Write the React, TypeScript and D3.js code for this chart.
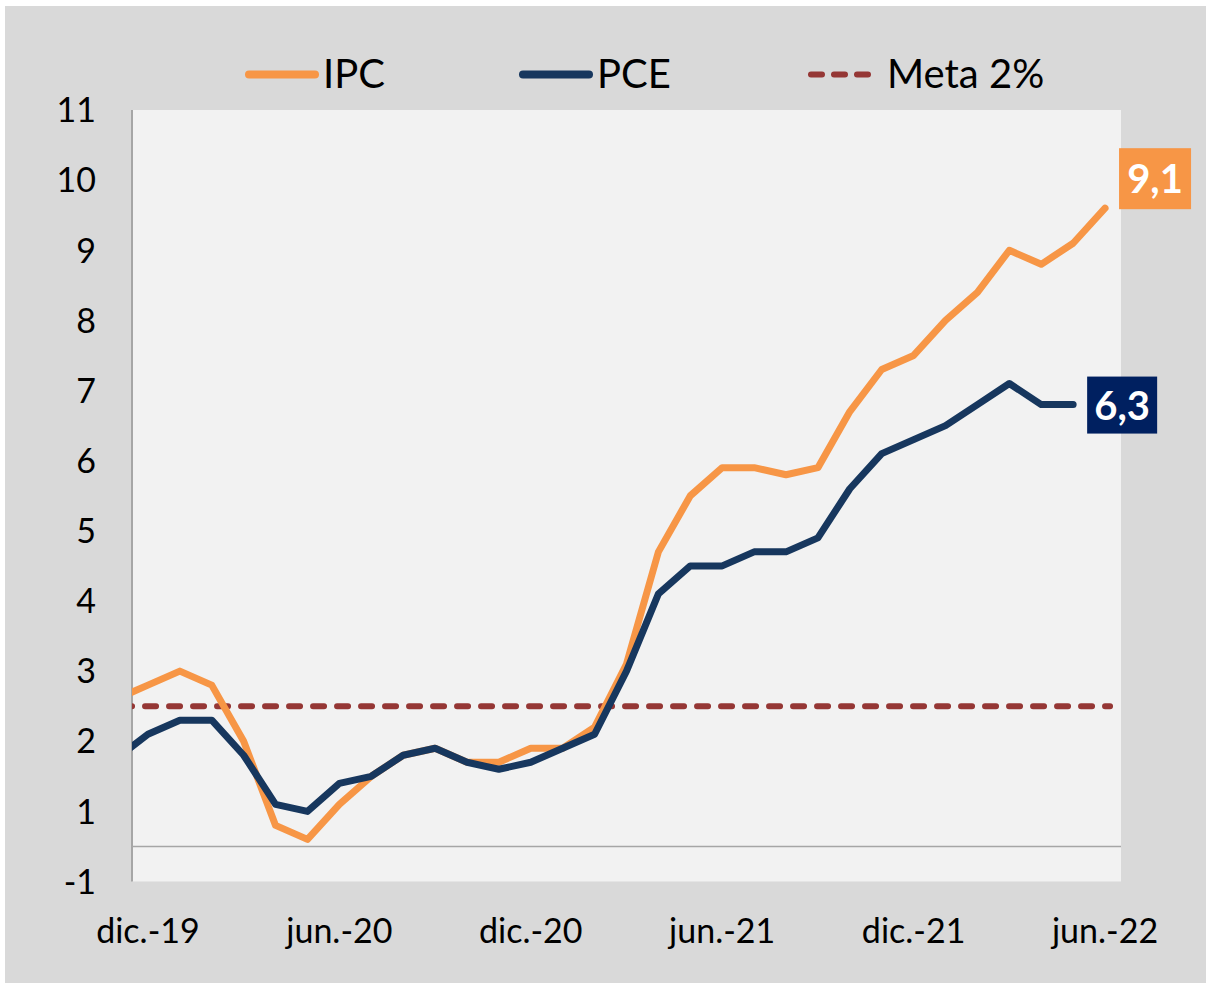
import React from "react";
import * as d3 from "d3";

const months = [
  "nov.-19", "dic.-19", "ene.-20", "feb.-20", "mar.-20", "abr.-20", "may.-20", "jun.-20",
  "jul.-20", "ago.-20", "sep.-20", "oct.-20", "nov.-20", "dic.-20", "ene.-21", "feb.-21",
  "mar.-21", "abr.-21", "may.-21", "jun.-21", "jul.-21", "ago.-21", "sep.-21", "oct.-21",
  "nov.-21", "dic.-21", "ene.-22", "feb.-22", "mar.-22", "abr.-22", "may.-22", "jun.-22",
];

const ipc = [
  2.1, 2.3, 2.5, 2.3, 1.5, 0.3, 0.1, 0.6, 1.0, 1.3, 1.4, 1.2, 1.2, 1.4, 1.4, 1.7,
  2.6, 4.2, 5.0, 5.4, 5.4, 5.3, 5.4, 6.2, 6.8, 7.0, 7.5, 7.9, 8.5, 8.3, 8.6, 9.1,
];

const pce = [
  1.25, 1.6, 1.8, 1.8, 1.3, 0.6, 0.5, 0.9, 1.0, 1.3, 1.4, 1.2, 1.1, 1.2, 1.4, 1.6,
  2.5, 3.6, 4.0, 4.0, 4.2, 4.2, 4.4, 5.1, 5.6, 5.8, 6.0, 6.3, 6.6, 6.3, 6.3, null,
];

const meta = months.map(() => 2);

const xTickLabels = ["dic.-19", "jun.-20", "dic.-20", "jun.-21", "dic.-21", "jun.-22"];
const yTickValues = [-0.5, 0.5, 1.5, 2.5, 3.5, 4.5, 5.5, 6.5, 7.5, 8.5, 9.5, 10.5];
const yTickLabels = ["-1", "1", "2", "3", "4", "5", "6", "7", "8", "9", "10", "11"];

const legendItems = [
  { name: "IPC", color: "#F79646", dash: null as string | null },
  { name: "PCE", color: "#17375E", dash: null as string | null },
  { name: "Meta 2%", color: "#953735", dash: "11 12" },
];

const FONT = "Lato, 'Open Sans', sans-serif";

export default function App() {
  const W = 1206;
  const H = 983;
  const plot = { left: 132, right: 1121, top: 110, bottom: 881.5 };

  const x = d3.scaleLinear().domain([0.5, months.length - 0.5]).range([plot.left, plot.right]);
  const y = d3.scaleLinear().domain([-0.5, 10.5]).range([plot.bottom, plot.top]);

  const line = d3
    .line<number | null>()
    .defined((d) => d !== null)
    .x((_, i) => x(i))
    .y((d) => y(d as number));

  const fmt = (v: number) => d3.format(".1f")(v).replace(".", ",");

  const lastIpcIdx = ipc.length - 1;
  let lastPceIdx = pce.length - 1;
  while (pce[lastPceIdx] === null) lastPceIdx--;

  const ipcPt = { x: x(lastIpcIdx), y: y(ipc[lastIpcIdx]) };
  const pcePt = { x: x(lastPceIdx), y: y(pce[lastPceIdx] as number) };

  const legendX = [245, 519, 807];

  return (
    <svg
      width={W}
      height={H}
      style={{ position: "absolute", left: 0, top: 0, display: "block" }}
      fontFamily={FONT}
    >
      <rect x={0} y={0} width={W} height={H} fill="#ffffff" />
      <rect x={5} y={6} width={W - 5} height={H - 6} fill="#D9D9D9" />
      <defs>
        <clipPath id="plotClip">
          <rect x={plot.left} y={plot.top} width={plot.right - plot.left} height={plot.bottom - plot.top} />
        </clipPath>
      </defs>
      <rect
        x={plot.left}
        y={plot.top}
        width={plot.right - plot.left}
        height={plot.bottom - plot.top}
        fill="#F2F2F2"
      />
      {/* zero line */}
      <line x1={plot.left} x2={plot.right} y1={y(0)} y2={y(0)} stroke="#A6A6A6" strokeWidth={1.5} />
      {/* y axis line */}
      <line x1={plot.left} x2={plot.left} y1={plot.top} y2={plot.bottom} stroke="#A6A6A6" strokeWidth={2} />

      {/* y tick labels */}
      {yTickValues.map((v, i) => (
        <text
          key={"yt" + i}
          x={96}
          y={y(v)}
          dy="0.36em"
          textAnchor="end"
          fontSize={34}
          fill="#000"
        >
          {yTickLabels[i]}
        </text>
      ))}

      {/* x tick labels */}
      {xTickLabels.map((lab) => (
        <text
          key={lab}
          x={x(months.indexOf(lab))}
          y={943}
          textAnchor="middle"
          fontSize={34}
          fill="#000"
        >
          {lab}
        </text>
      ))}

      <g clipPath="url(#plotClip)">
        <path
          d={line(meta) || ""}
          fill="none"
          stroke="#953735"
          strokeWidth={6}
          strokeDasharray="11 13"
          strokeLinecap="round"
          transform="translate(5,0)"
        />
        <path
          d={line(ipc) || ""}
          fill="none"
          stroke="#F79646"
          strokeWidth={7}
          strokeLinejoin="round"
          strokeLinecap="round"
        />
        <path
          d={line(pce) || ""}
          fill="none"
          stroke="#17375E"
          strokeWidth={7}
          strokeLinejoin="round"
          strokeLinecap="round"
        />
      </g>

      {/* data labels */}
      <rect x={ipcPt.x + 14} y={ipcPt.y - 60} width={72} height={61} fill="#F79646" />
      <text
        x={ipcPt.x + 50}
        y={ipcPt.y - 15}
        textAnchor="middle"
        fontSize={40}
        fontWeight={700}
        fill="#fff"
      >
        {fmt(ipc[lastIpcIdx])}
      </text>
      <rect x={pcePt.x + 14} y={pcePt.y - 28} width={70} height={57} fill="#002060" />
      <text
        x={pcePt.x + 49}
        y={pcePt.y + 15}
        textAnchor="middle"
        fontSize={40}
        fontWeight={700}
        fill="#fff"
      >
        {fmt(pce[lastPceIdx] as number)}
      </text>

      {/* legend */}
      {legendItems.map((it, i) => (
        <g key={it.name}>
          <line
            x1={legendX[i] + 4}
            x2={legendX[i] + (it.dash ? 64 : 70)}
            y1={74.5}
            y2={74.5}
            stroke={it.color}
            strokeWidth={it.dash ? 6 : 8}
            strokeLinecap="round"
            strokeDasharray={it.dash || undefined}
          />
          <text x={legendX[i] + (it.dash ? 80 : 78)} y={88} fontSize={40} fill="#000">
            {it.name}
          </text>
        </g>
      ))}
    </svg>
  );
}
